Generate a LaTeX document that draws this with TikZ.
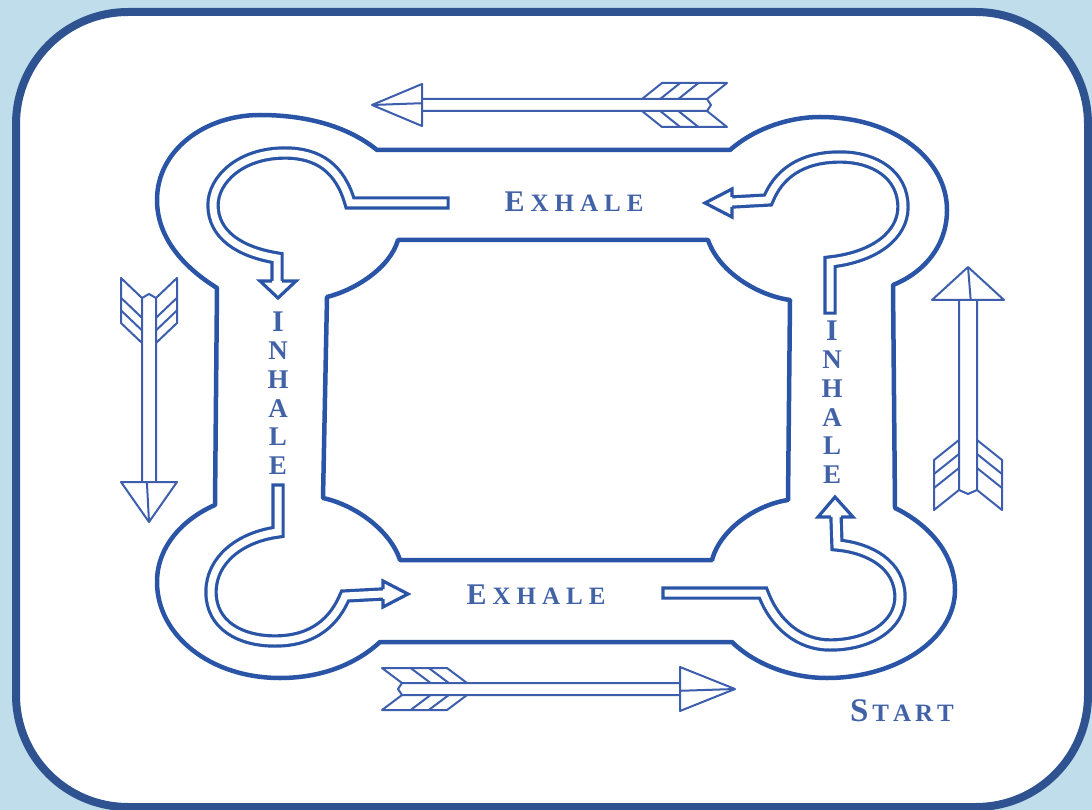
\documentclass[tikz,border=0pt]{standalone}
\usepackage{fontspec}
\setmainfont{Liberation Serif}
\definecolor{bgBlue}{HTML}{BFDDEB}
\definecolor{frameBlue}{HTML}{2F5290}
\definecolor{trackBlue}{HTML}{2A55A6}
\definecolor{arrowBlue}{HTML}{3D5EAD}
\definecolor{textBlue}{HTML}{4262A8}
\newcommand{\firstcap}[1]{{\fontsize{30}{30}\selectfont #1}}
\tikzset{
  track/.style={draw=trackBlue, line width=4.5pt, line join=round},
  curl/.style={draw=trackBlue, double=white, line width=3.2pt, double distance=7pt, line cap=rect},
  curlhead/.style={draw=trackBlue, fill=white, line width=3.2pt},
  word/.style={text=textBlue, font=\fontsize{25}{25}\selectfont\bfseries, inner sep=0pt},
  pics/feather/.style n args={6}{code={
    % #1 length, #2 head length, #3 head half width, #4 vane half width, #5 vane length, #6 shaft half width
    \draw[arrowBlue, line width=2pt, line join=round]
      (20,#6) -- ({#1-#2},#6) (20,-#6) -- ({#1-#2},-#6)
      (20,#6) -- (16,0) -- (20,-#6);
    \foreach \side in {1,-1} {
      \draw[arrowBlue, line width=2pt, line join=round]
        (20,{\side*#6}) -- (0,{\side*#4}) -- (#5,{\side*#4}) -- ({#5+20},{\side*#6});
      \foreach \k in {1,2}
        \draw[arrowBlue, line width=2pt]
          ({#5-\k*0.28*#5},{\side*#4}) -- ({#5-\k*0.28*#5+20},{\side*#6});
    }
    \draw[arrowBlue, line width=2pt, line join=round, fill=white]
      ({#1-#2},#3) -- (#1,0) -- ({#1-#2},-#3) -- cycle;
    \draw[arrowBlue, line width=2pt] (#1,0) -- ({#1-#2},{0.3*#6});
  }}
}
\begin{document}
\begin{tikzpicture}[x=1pt, y=-1pt]
  \useasboundingbox (0,0) rectangle (1092,810);
  \fill[bgBlue] (0,0) rectangle (1092,810);
  \draw[frameBlue, line width=8pt, fill=white, rounded corners=112pt] (16,12) rectangle (1088,807);

  % outer and inner outline of the track
  \draw[track] (377,150) -- (730,150)
    .. controls (755,128) and (790,117) .. (820,117)
    .. controls (895,117) and (947,160) .. (947,210)
    .. controls (947,245) and (925,272) .. (893,285)
    -- (895,508)
    .. controls (930,525) and (955,555) .. (955,590)
    .. controls (955,640) and (895,678) .. (827,678)
    .. controls (785,678) and (750,660) .. (732,642)
    -- (380,642)
    .. controls (355,665) and (320,678) .. (280,678)
    .. controls (210,678) and (157,635) .. (157,582)
    .. controls (157,545) and (185,518) .. (215,505)
    -- (217,288)
    .. controls (180,265) and (157,235) .. (157,200)
    .. controls (157,150) and (205,115) .. (260,115)
    .. controls (310,115) and (350,128) .. (377,150) -- cycle;
  \draw[track] (398,240) -- (708,240)
    .. controls (718,270) and (755,295) .. (790,300)
    -- (788,500)
    .. controls (755,505) and (720,530) .. (712,560)
    -- (400,560)
    .. controls (390,530) and (355,505) .. (323,498)
    -- (327,297)
    .. controls (355,290) and (390,268) .. (398,240) -- cycle;

  % curled arrows in the corners
  \draw[curl] (443,203) -- (350,203) .. controls (340,168) and (318,153) .. (285,153)
    .. controls (240,153) and (213,180) .. (213,205)
    .. controls (213,235) and (240,252) .. (277,258) -- (277,281);
  \draw[curlhead] (272,281) -- (260,281) -- (278,298) -- (296,281) -- (282,281);

  \draw[curl] (830,308) -- (830,262) .. controls (875,257) and (903,235) .. (903,207)
    .. controls (903,175) and (875,157) .. (840,157)
    .. controls (800,157) and (778,175) .. (768,200) -- (732,202);
  \draw[curlhead] (732,197) -- (732,189) -- (705,203) -- (732,217) -- (732,207);

  \draw[curl] (278,490) -- (278,532) .. controls (240,537) and (211,560) .. (211,592)
    .. controls (211,625) and (240,641) .. (275,641)
    .. controls (315,641) and (335,620) .. (345,596) -- (383,594);
  \draw[curlhead] (383,589) -- (383,581) -- (408,594) -- (383,607) -- (383,599);

  \draw[curl] (668,593) -- (763,593) .. controls (775,625) and (800,645) .. (830,645)
    .. controls (870,645) and (900,625) .. (900,597)
    .. controls (900,565) and (870,548) .. (837,545) -- (836,517);
  \draw[curlhead] (831,517) -- (818,517) -- (835,497) -- (853,517) -- (841,517);

  % feathered arrows round the track
  \pic[rotate=180] (toparrow) at (727,105) {feather={355}{50}{21}{22}{65}{6}};
  \pic (bottomarrow) at (382,689) {feather={353}{55}{22}{21}{65}{6}};
  \pic[rotate=-90] (leftarrow) at (149,278) {feather={244}{40}{28}{28}{45}{7}};
  \pic[rotate=90] (rightarrow) at (968,510) {feather={243}{33}{36}{34}{50}{9}};

  % labels
  \node[word] (exhaletop) at (574,202) {\firstcap{E}\kern6pt X\kern6pt H\kern6pt A\kern6pt L\kern6pt E};
  \node[word] (exhalebottom) at (536,595) {\firstcap{E}\kern6pt X\kern6pt H\kern6pt A\kern6pt L\kern6pt E};
  \node[word, align=center, font=\fontsize{27}{28.6}\selectfont\bfseries] (inhaleleft) at (278,393) {\firstcap{I}\\N\\H\\A\\L\\E};
  \node[word, align=center, font=\fontsize{27}{28.6}\selectfont\bfseries] (inhaleright) at (832,402) {\firstcap{I}\\N\\H\\A\\L\\E};
  \node[word] (start) at (902,711) {{\fontsize{33}{33}\selectfont S}\kern4pt T\kern4pt A\kern4pt R\kern4pt T};
\end{tikzpicture}
\end{document}
